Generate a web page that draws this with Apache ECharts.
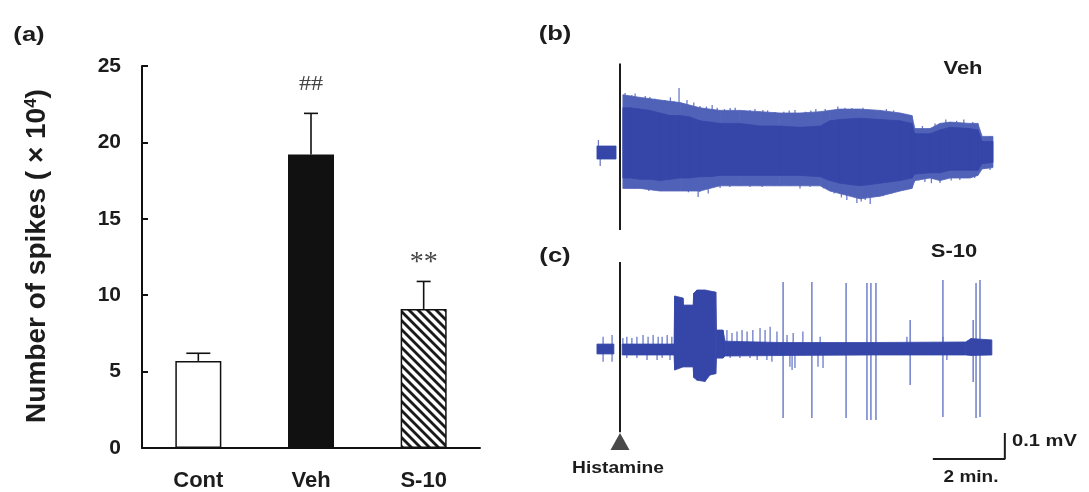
<!DOCTYPE html>
<html>
<head>
<meta charset="utf-8">
<script src="https://cdn.jsdelivr.net/npm/echarts@6/dist/echarts.min.js"></script>
<style>
html,body{margin:0;padding:0;background:#fff;}
#c{width:1089px;height:492px;}
</style>
</head>
<body>
<div id="c"></div>
<script>
// ---------- panel (a) data ----------
var categories = ['Cont', 'Veh', 'S-10'];
var means = [5.7, 19.2, 9.1];
var errUpper = [6.2, 21.9, 10.9];
var annotations = ['', '##', '**'];
var yTicks = [0, 5, 10, 15, 20, 25];

// ---------- panel (b) Veh trace (time in min, voltage in mV) ----------
var bPre = [[-0.64, -0.027, 0.023], [-0.11, -0.027, 0.023]];
var bCore = [[0.08,-0.10,0.17],[0.28,-0.10,0.17],[0.56,-0.105,0.165],[0.83,-0.105,0.16],[1.11,-0.11,0.15],
  [1.39,-0.105,0.14],[1.67,-0.10,0.14],[1.94,-0.10,0.135],[2.22,-0.095,0.12],[2.50,-0.095,0.115],[2.78,-0.09,0.11],
  [3.33,-0.09,0.11],[3.89,-0.09,0.10],[4.44,-0.09,0.10],[5.00,-0.09,0.095],[5.56,-0.095,0.10],[5.83,-0.11,0.12],
  [6.11,-0.12,0.125],[6.67,-0.13,0.13],[7.22,-0.12,0.125],[7.78,-0.11,0.12],[8.11,-0.10,0.11],[8.19,-0.085,0.07],
  [8.61,-0.08,0.07],[8.89,-0.08,0.085],[9.17,-0.07,0.095],[9.72,-0.07,0.09],[9.94,-0.07,0.085],[10.06,-0.045,0.04],
  [10.36,-0.04,0.04]];
var bOuter = [[0.08,-0.14,0.22],[0.56,-0.14,0.21],[1.11,-0.15,0.20],[1.67,-0.15,0.19],[2.22,-0.15,0.17],
  [2.78,-0.13,0.16],[3.33,-0.13,0.16],[3.89,-0.13,0.155],[4.44,-0.13,0.15],[5.00,-0.13,0.15],[5.56,-0.13,0.155],
  [5.83,-0.15,0.16],[6.11,-0.16,0.165],[6.67,-0.18,0.165],[7.22,-0.17,0.16],[7.78,-0.15,0.15],[8.11,-0.14,0.14],
  [8.19,-0.11,0.09],[8.61,-0.10,0.09],[8.89,-0.11,0.11],[9.17,-0.10,0.115],[9.72,-0.10,0.11],[9.94,-0.09,0.11],
  [10.06,-0.065,0.06],[10.36,-0.06,0.06]];
var bTips = [[-0.60,0.046],[-0.55,-0.054],[0.14,0.227],[0.33,0.219],[0.56,0.208],[0.83,0.212],[1.25,0.2],[1.64,0.246],[1.86,0.2],
  [2.22,0.177],[2.56,0.181],[3.06,0.169],[3.61,0.162],[3.97,0.162],[4.31,0.154],[4.86,0.162],[5.44,0.165],
  [5.89,0.162],[6.44,0.169],[6.94,0.15],[8.0,0.142],[9.17,0.115],[9.94,0.096],[10.28,0.062],
  [0.22,0.21],[0.42,0.225],[0.70,0.215],[0.97,0.205],[1.40,0.21],[1.50,0.195],[2.05,0.19],[2.40,0.175],
  [2.70,0.17],[2.90,0.165],[3.20,0.17],[3.45,0.16],[3.75,0.165],[4.10,0.16],[4.55,0.155],[4.70,0.16],
  [5.15,0.155],[5.30,0.16],[5.70,0.165],[6.05,0.175],[6.25,0.17],[6.60,0.165],[6.75,0.17],[7.10,0.16],
  [7.40,0.165],[7.60,0.16],[8.40,0.10],[8.75,0.11],[9.05,0.125],[9.35,0.12],[9.55,0.125],[9.80,0.115],
  [0.56,-0.138],[1.11,-0.146],[2.17,-0.173],[2.22,-0.154],[2.78,-0.138],[3.61,-0.135],[4.72,-0.131],
  [5.28,-0.135],[6.39,-0.165],[6.58,-0.196],[6.81,-0.185],[7.08,-0.169],[7.92,-0.146],[8.47,-0.115],
  [8.89,-0.119],[9.44,-0.108],[10.28,-0.069],
  [0.20,-0.135],[0.40,-0.14],[0.80,-0.15],[1.30,-0.145],[1.55,-0.15],[1.90,-0.155],[2.45,-0.16],[3.05,-0.135],
  [3.30,-0.13],[3.95,-0.135],[4.30,-0.13],[5.00,-0.14],[5.65,-0.14],[5.95,-0.16],[6.15,-0.175],[6.30,-0.185],
  [6.70,-0.19],[6.95,-0.2],[7.30,-0.17],[7.55,-0.16],[8.30,-0.11],[8.65,-0.12],[9.20,-0.11],[9.60,-0.10],[9.85,-0.10]];
var bHistamine = [[0, 0.34], [0, -0.30]];

// ---------- panel (c) S-10 trace ----------
var cPre = [[-0.64, -0.019, 0.019], [-0.17, -0.019, 0.019]];
var cCore = [[0.06,-0.023,0.019],[1.50,-0.023,0.019],[1.52,-0.081,0.204],[1.75,-0.069,0.196],[1.76,-0.069,0.169],
  [2.03,-0.069,0.169],[2.05,-0.11,0.215],[2.14,-0.12,0.227],[2.36,-0.125,0.227],[2.50,-0.10,0.223],
  [2.66,-0.095,0.219],[2.68,-0.035,0.073],[2.86,-0.035,0.073],[2.92,-0.027,0.030],[4.44,-0.025,0.025],
  [7.00,-0.023,0.025],[9.60,-0.023,0.027],[9.75,-0.025,0.040],[10.33,-0.023,0.035]];
var cTips = [[-0.47,0.047],[-0.22,0.054],[0.08,0.042],[0.19,0.047],[0.33,0.042],[0.47,0.047],[0.64,0.054],
  [0.78,0.047],[0.92,0.054],[1.06,0.047],[1.17,0.047],[1.31,0.054],[1.44,0.047],[2.78,0.073],[2.86,0.067],
  [2.97,0.073],[3.11,0.062],[3.25,0.067],[3.39,0.073],[3.53,0.067],[3.69,0.073],[3.89,0.081],[4.03,0.073],
  [4.17,0.086],[4.36,0.067],[4.64,0.054],[4.81,0.062],[5.08,0.067],[5.56,0.047],[7.97,0.047],[8.97,0.047],
  [-0.47,-0.049],[-0.22,-0.049],[0.19,-0.035],[0.47,-0.035],[0.75,-0.042],[1.03,-0.042],[1.17,-0.035],
  [1.39,-0.042],[2.83,-0.030],[3.06,-0.035],[3.33,-0.035],[3.61,-0.035],[3.81,-0.042],[4.08,-0.042],
  [4.22,-0.049],[4.72,-0.068],[4.78,-0.081],[4.86,-0.073],[5.50,-0.068],[5.64,-0.073],[9.08,-0.042]];
var cSpikes = [[4.53,-0.265,0.258],[5.33,-0.265,0.258],[6.28,-0.265,0.254],[6.86,-0.273,0.254],
  [6.97,-0.273,0.254],[7.11,-0.273,0.254],[8.06,-0.138,0.112],[8.97,-0.262,0.265],[9.81,-0.127,0.112],
  [9.89,-0.265,0.254],[10.00,-0.262,0.265]];
var cHistamine = [[0, 0.335], [0, -0.32]];
var histamineMarker = [[0, -0.356]];
var scaleBar = [[8.69, -0.423], [10.69, -0.423], [10.69, -0.323]];

// ---------- drawing ----------
var CORE = '#3546a8', OUTER = '#5062b8', TIP = '#6b7bc8', SPIKE = '#6676c6';
var FONT = 'Liberation Sans, Arial, sans-serif';
var INK = '#1c1c1c';

function hatchPattern() {
  var s = 9, cv = document.createElement('canvas');
  cv.width = s; cv.height = s;
  var g = cv.getContext('2d');
  g.fillStyle = '#fff'; g.fillRect(0, 0, s, s);
  g.strokeStyle = '#1a1a1a'; g.lineWidth = 2.8;
  for (var k = -1; k <= 1; k++) {
    g.beginPath(); g.moveTo(k * s - 1, -1); g.lineTo(k * s + s + 1, s + 1); g.stroke();
  }
  return cv;
}

function bandSeries(rows, xi, yi, color, z) {
  return {
    type: 'custom', xAxisIndex: xi, yAxisIndex: yi, data: rows, silent: true, z: z || 3,
    encode: { x: 0, y: [1, 2] },
    renderItem: function (params, api) {
      var i = params.dataIndex;
      if (i >= rows.length - 1) return null;
      var a = rows[i], b = rows[i + 1];
      var pts = [api.coord([a[0], a[2]]), api.coord([b[0], b[2]]), api.coord([b[0], b[1]]), api.coord([a[0], a[1]])];
      return { type: 'polygon', shape: { points: pts }, style: { fill: color, stroke: color, lineWidth: 0.8 } };
    }
  };
}
function tipSeries(rows, xi, yi, color) {
  return {
    type: 'custom', xAxisIndex: xi, yAxisIndex: yi, data: rows, silent: true, z: 1,
    encode: { x: 0, y: 1 },
    renderItem: function (params, api) {
      var p0 = api.coord([api.value(0), 0]), p1 = api.coord([api.value(0), api.value(1)]);
      return { type: 'line', shape: { x1: p0[0], y1: p0[1], x2: p1[0], y2: p1[1] }, style: { stroke: color, lineWidth: 1.3 } };
    }
  };
}
function spikeSeries(rows, xi, yi, color) {
  return {
    type: 'custom', xAxisIndex: xi, yAxisIndex: yi, data: rows, silent: true, z: 2,
    encode: { x: 0, y: [1, 2] },
    renderItem: function (params, api) {
      var p0 = api.coord([api.value(0), api.value(1)]), p1 = api.coord([api.value(0), api.value(2)]);
      return { type: 'line', shape: { x1: p0[0], y1: p0[1], x2: p1[0], y2: p1[1] }, style: { stroke: color, lineWidth: 1.4 } };
    }
  };
}
function label(text, x, y, size, align, sx) {
  return { type: 'text', x: x, y: y, scaleX: sx || 1.22,
    style: { text: text, font: 'bold ' + size + 'px ' + FONT, fill: INK, align: align || 'center', verticalAlign: 'middle' } };
}

var chart = echarts.init(document.getElementById('c'), null, { renderer: 'canvas' });
var hatch = hatchPattern();

var option = {
  backgroundColor: '#ffffff',
  animation: false,
  textStyle: { fontFamily: FONT },
  grid: [
    { left: 142, right: 609, top: 66, bottom: 44 },
    { left: 584, right: 73, top: 48, bottom: 249 },
    { left: 584, right: 73, top: 245, bottom: 13 }
  ],
  xAxis: [
    {
      type: 'category', gridIndex: 0, data: categories,
      axisLine: { lineStyle: { color: '#111', width: 2 } },
      axisTick: { inside: true, length: 7, lineStyle: { color: '#111', width: 2 } },
      axisLabel: { color: INK, fontSize: 22, fontWeight: 'bold', margin: 22, fontFamily: FONT }
    },
    { type: 'value', gridIndex: 1, min: -1, max: 11, show: false },
    { type: 'value', gridIndex: 2, min: -1, max: 11, show: false }
  ],
  yAxis: [
    {
      type: 'value', gridIndex: 0, min: 0, max: 25, interval: 5,
      axisLine: { show: true, lineStyle: { color: '#111', width: 2 } },
      axisTick: { show: true, inside: true, length: 6, lineStyle: { color: '#111', width: 2 } },
      splitLine: { show: false },
      axisLabel: { color: INK, fontSize: 21, fontWeight: 'bold', margin: 21, fontFamily: FONT,
        formatter: function (v) { return yTicks.indexOf(v) >= 0 ? String(v) : ''; } }
    },
    { type: 'value', gridIndex: 1, min: -0.35, max: 0.4, show: false },
    { type: 'value', gridIndex: 2, min: -0.5, max: 0.4, show: false }
  ],
  series: [
    {
      type: 'bar', xAxisIndex: 0, yAxisIndex: 0, barWidth: 46, z: 3,
      data: means.map(function (v, i) {
        var st = { borderColor: '#111', borderWidth: 1.5 };
        st.color = i === 0 ? '#ffffff' : (i === 1 ? '#111111' : { image: hatch, repeat: 'repeat' });
        return { value: v, itemStyle: st };
      })
    },
    {
      type: 'custom', xAxisIndex: 0, yAxisIndex: 0, z: 4, silent: true,
      data: means.map(function (m, i) { return [i, m, errUpper[i]]; }),
      encode: { x: 0, y: [1, 2] },
      renderItem: function (params, api) {
        var i = params.dataIndex;
        var p0 = api.coord([api.value(0), api.value(1)]);
        var p1 = api.coord([api.value(0), api.value(2)]);
        var cw = i === 0 ? 12 : 7;
        var children = [
          { type: 'line', shape: { x1: p0[0], y1: p0[1], x2: p1[0], y2: p1[1] }, style: { stroke: '#111', lineWidth: 1.6 } },
          { type: 'line', shape: { x1: p1[0] - cw, y1: p1[1], x2: p1[0] + cw, y2: p1[1] }, style: { stroke: '#111', lineWidth: 1.6 } }
        ];
        if (annotations[i]) {
          var isHash = annotations[i] === '##';
          children.push({ type: 'text', x: p1[0], y: p1[1] - (isHash ? 29 : 19), scaleX: isHash ? 1.1 : 1,
            style: { text: annotations[i], fill: '#444', font: (isHash ? 22 : 28) + 'px "Liberation Serif", serif',
              align: 'center', verticalAlign: 'middle' } });
        }
        return { type: 'group', children: children };
      }
    },
    bandSeries(bPre, 1, 1, CORE),
    bandSeries(bOuter, 1, 1, OUTER, 2),
    bandSeries(bCore, 1, 1, CORE, 3),
    tipSeries(bTips, 1, 1, TIP),
    { type: 'line', xAxisIndex: 1, yAxisIndex: 1, data: bHistamine, symbol: 'none', silent: true, z: 5,
      lineStyle: { color: INK, width: 2 } },
    bandSeries(cPre, 2, 2, CORE),
    bandSeries(cCore, 2, 2, CORE),
    tipSeries(cTips, 2, 2, TIP),
    spikeSeries(cSpikes, 2, 2, SPIKE),
    { type: 'line', xAxisIndex: 2, yAxisIndex: 2, data: cHistamine, symbol: 'none', silent: true, z: 5,
      lineStyle: { color: INK, width: 2 } },
    { type: 'scatter', xAxisIndex: 2, yAxisIndex: 2, data: histamineMarker, symbol: 'triangle', symbolSize: [19, 17],
      silent: true, itemStyle: { color: INK }, z: 5 },
    { type: 'line', xAxisIndex: 2, yAxisIndex: 2, data: scaleBar, symbol: 'none', silent: true, z: 5,
      lineStyle: { color: INK, width: 2 } }
  ],
  graphic: [
    label('(a)', 29, 35, 21),
    label('(b)', 555, 34, 21),
    label('(c)', 555, 256, 21),
    { type: 'text', x: 37, y: 256, rotation: Math.PI / 2,
      style: { text: 'Number of spikes ( × 10{s|4})', font: 'bold 28px ' + FONT, fill: INK, align: 'center', verticalAlign: 'middle',
        rich: { s: { fontSize: 17, fontWeight: 'bold', fontFamily: FONT, verticalAlign: 'top', padding: [0, 0, 12, 0], fill: INK } } } },
    label('Veh', 963, 69, 18),
    label('S-10', 954, 252, 18),
    label('Histamine', 618, 469, 16, 'center', 1.2),
    label('0.1 mV', 1012, 441, 16.5, 'left', 1.22),
    label('2 min.', 971, 477, 16.5, 'center', 1.15)
  ]
};
chart.setOption(option);
</script>
</body>
</html>
